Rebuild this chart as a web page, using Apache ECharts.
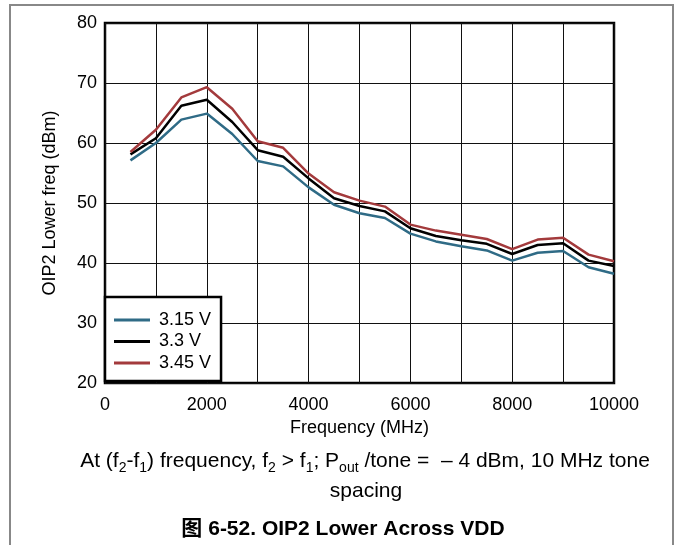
<!DOCTYPE html>
<html>
<head>
<meta charset="utf-8">
<script src="https://cdn.jsdelivr.net/npm/echarts@6/dist/echarts.min.js"></script>
<style>
html, body { margin: 0; padding: 0; background: #fff; }
#chart { width: 676px; height: 545px; }
</style>
</head>
<body>
<div id="chart"></div>
<script>
// frequencies in MHz
var freqs = [500, 1000, 1500, 2000, 2500, 3000, 3500, 4000, 4500, 5000,
             5500, 6000, 6500, 7000, 7500, 8000, 8500, 9000, 9500, 10000];
var oip2_315 = [57.1, 60.0, 63.9, 64.9, 61.5, 57.0, 56.1, 52.6, 49.7, 48.3,
                47.5, 44.9, 43.6, 42.8, 42.1, 40.4, 41.7, 42.0, 39.3, 38.2];
var oip2_330 = [58.1, 60.8, 66.2, 67.2, 63.5, 58.8, 57.7, 54.1, 50.8, 49.5,
                48.6, 45.8, 44.5, 43.8, 43.2, 41.5, 43.0, 43.3, 40.4, 39.5];
var oip2_345 = [58.5, 62.2, 67.6, 69.3, 65.7, 60.3, 59.2, 54.9, 51.8, 50.4,
                49.4, 46.4, 45.4, 44.7, 44.0, 42.3, 43.9, 44.2, 41.4, 40.3];
var seriesNames = ['3.15 V', '3.3 V', '3.45 V'];
var seriesColors = ['#2f6b86', '#000000', '#a33a3c'];

function pairs(ys) {
	return freqs.map(function (f, i) { return [f, ys[i]]; });
}

var chart = echarts.init(document.getElementById('chart'));
var font = 'Liberation Sans, Arial, sans-serif';

var option = {
	backgroundColor: '#fff',
	animation: false,
	grid: {
		left: 105, top: 23, width: 509, height: 360,
		show: true, borderColor: '#000', borderWidth: 2.5
	},
	xAxis: {
		type: 'value', min: 0, max: 10000, interval: 1000,
		name: 'Frequency (MHz)', nameLocation: 'middle', nameGap: 28,
		nameTextStyle: { fontSize: 18, color: '#000', fontFamily: font },
		axisLine: { show: false },
		axisTick: { show: false },
		axisLabel: {
			fontSize: 18, color: '#000', fontFamily: font, margin: 13,
			formatter: function (v) { return v % 2000 === 0 ? String(v) : ''; }
		},
		splitLine: { show: true, lineStyle: { color: '#111', width: 1 } }
	},
	yAxis: {
		type: 'value', min: 20, max: 80, interval: 10,
		name: 'OIP2 Lower freq (dBm)', nameLocation: 'middle', nameGap: 46,
		nameTextStyle: { fontSize: 18, color: '#000', fontFamily: font },
		axisLine: { show: false },
		axisTick: { show: false },
		axisLabel: { fontSize: 18, color: '#000', fontFamily: font, margin: 8 },
		splitLine: { show: true, lineStyle: { color: '#111', width: 1 } }
	},
	legend: {
		orient: 'vertical', left: 105, top: 297,
		backgroundColor: '#fff', borderColor: '#000', borderWidth: 2.5,
		padding: [14, 10, 9, 9], itemGap: 3.5,
		itemWidth: 36, itemHeight: 3,
		icon: 'rect',
		textStyle: { fontSize: 18, color: '#000', fontFamily: font, padding: [0, 0, 0, 4] },
		data: seriesNames
	},
	series: [
		{ name: seriesNames[0], data: pairs(oip2_315) },
		{ name: seriesNames[1], data: pairs(oip2_330) },
		{ name: seriesNames[2], data: pairs(oip2_345) }
	].map(function (s, i) {
		s.type = 'line';
		s.showSymbol = false;
		s.symbol = 'none';
		s.color = seriesColors[i];
		s.lineStyle = { width: 2.5, color: seriesColors[i] };
		return s;
	}),
	graphic: [
		{ type: 'polyline', shape: { points: [[10, 545], [10, 5], [673, 5], [673, 545]] },
		  style: { stroke: '#888', lineWidth: 2, fill: null } },
		{
			type: 'text', x: 365, y: 461,
			style: {
				text: '{n|At (f}{s|2}{n|-f}{s|1}{n|) frequency, f}{s|2}{n| > f}{s|1}{n|; P}{s|out}{n| /tone =  \u2013 4 dBm, 10 MHz tone}',
				align: 'center', verticalAlign: 'middle',
				rich: {
					n: { fontSize: 21, lineHeight: 28, verticalAlign: 'middle', fontFamily: font, fill: '#000' },
					s: { fontSize: 14, lineHeight: 14, verticalAlign: 'bottom', fontFamily: font, fill: '#000' }
				}
			}
		},
		{
			type: 'text', x: 366, y: 491,
			style: { text: 'spacing', align: 'center', verticalAlign: 'middle',
				fontSize: 21, fontFamily: font, fill: '#000' }
		},
		{
			type: 'text', x: 343, y: 529,
			style: { text: '图 6-52. OIP2 Lower Across VDD', align: 'center', verticalAlign: 'middle',
				fontSize: 21, fontWeight: 'bold', fontFamily: 'Liberation Sans, Noto Sans CJK SC, sans-serif', fill: '#000' }
		}
	]
};

chart.setOption(option);
</script>
</body>
</html>
